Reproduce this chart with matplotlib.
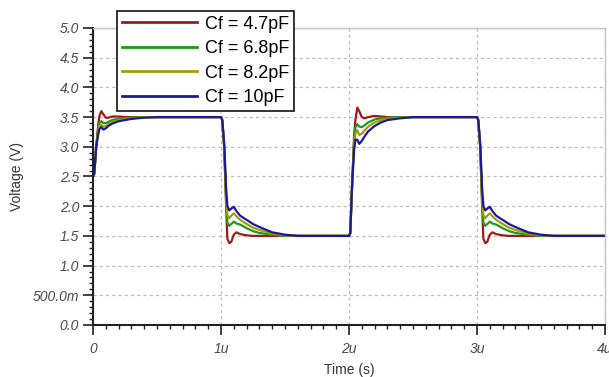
import numpy as np
import matplotlib
matplotlib.use("Agg")
import matplotlib.pyplot as plt
from matplotlib.ticker import MultipleLocator

plt.rcParams['font.family'] = ['Liberation Sans', 'DejaVu Sans']

# legend labels and colours
labels = ["Cf = 4.7pF", "Cf = 6.8pF", "Cf = 8.2pF", "Cf = 10pF"]
colors = ["#a31818", "#1c9a1c", "#a39c08", "#1a1a96"]

# axis ticks
x_ticks = [0, 1, 2, 3, 4]
x_labels = ["0", "1u", "2u", "3u", "4u"]
y_ticks = [0.0, 0.5, 1.0, 1.5, 2.0, 2.5, 3.0, 3.5, 4.0, 4.5, 5.0]
y_labels = ["0.0", "500.0m", "1.0", "1.5", "2.0", "2.5", "3.0",
            "3.5", "4.0", "4.5", "5.0"]

# edge start times (us)
edge_times = [0.0, 1.0, 2.0, 3.0]
end_time = 4.0
final_level = 1.5

# time after each edge (us)
rel_t = [0, 0.01, 0.025, 0.04, 0.05, 0.065, 0.08, 0.10, 0.12, 0.15,
         0.20, 0.25, 0.30, 0.40, 0.50, 0.60]

# first rise, from 2.5 V (t = 0)
rise0 = [
    [2.5, 2.55, 3.0, 3.35, 3.52, 3.60, 3.55, 3.49, 3.49, 3.51, 3.51, 3.50, 3.50, 3.50, 3.50, 3.50],
    [2.5, 2.55, 3.0, 3.30, 3.40, 3.43, 3.40, 3.40, 3.42, 3.45, 3.47, 3.48, 3.49, 3.50, 3.50, 3.50],
    [2.5, 2.55, 3.0, 3.25, 3.35, 3.37, 3.34, 3.35, 3.38, 3.42, 3.45, 3.47, 3.48, 3.50, 3.50, 3.50],
    [2.5, 2.55, 3.0, 3.20, 3.30, 3.33, 3.29, 3.31, 3.35, 3.39, 3.43, 3.45, 3.47, 3.49, 3.50, 3.50],
]

# falling edge, 3.5 V -> 1.5 V (t = 1u and 3u)
fall = [
    [3.5, 3.45, 3.0, 2.00, 1.45, 1.38, 1.40, 1.52, 1.56, 1.53, 1.51, 1.50, 1.50, 1.50, 1.50, 1.50],
    [3.5, 3.45, 3.0, 2.10, 1.72, 1.67, 1.70, 1.74, 1.71, 1.69, 1.63, 1.58, 1.55, 1.52, 1.50, 1.50],
    [3.5, 3.45, 3.0, 2.20, 1.85, 1.80, 1.84, 1.88, 1.83, 1.77, 1.70, 1.64, 1.60, 1.54, 1.51, 1.50],
    [3.5, 3.45, 3.05, 2.30, 2.00, 1.93, 1.96, 1.99, 1.92, 1.84, 1.77, 1.70, 1.65, 1.56, 1.52, 1.50],
]

# rising edge, 1.5 V -> 3.5 V (t = 2u)
rise = [
    [1.5, 1.55, 2.4, 3.20, 3.45, 3.66, 3.60, 3.50, 3.48, 3.50, 3.52, 3.51, 3.50, 3.50, 3.50, 3.50],
    [1.5, 1.55, 2.4, 3.10, 3.33, 3.38, 3.34, 3.33, 3.36, 3.41, 3.46, 3.48, 3.49, 3.50, 3.50, 3.50],
    [1.5, 1.55, 2.4, 3.00, 3.22, 3.28, 3.20, 3.22, 3.27, 3.34, 3.41, 3.45, 3.47, 3.49, 3.50, 3.50],
    [1.5, 1.55, 2.4, 2.95, 3.12, 3.12, 3.05, 3.10, 3.17, 3.26, 3.35, 3.41, 3.45, 3.48, 3.50, 3.50],
]

fig = plt.figure(figsize=(6.09, 3.77), dpi=100)
ax = fig.add_axes([93 / 609, 1 - 325 / 377, 512 / 609, 297 / 377])

rt = np.array(rel_t)
segments = [rise0, fall, rise, fall]
for i, (lab, col) in enumerate(zip(labels, colors)):
    t = np.concatenate([rt + e for e in edge_times] + [[end_time]])
    v = np.concatenate([seg[i] for seg in segments] + [[final_level]])
    ax.plot(t, v, color=col, lw=1.6, label=lab)

ax.set_xlim(0, 4)
ax.set_ylim(0, 5)

ax.set_xticks(x_ticks)
ax.set_xticklabels(x_labels)
ax.set_yticks(y_ticks)
ax.set_yticklabels(y_labels)
ax.xaxis.set_minor_locator(MultipleLocator(0.1))
ax.yaxis.set_minor_locator(MultipleLocator(0.1))

for lab in ax.get_xticklabels() + ax.get_yticklabels():
    lab.set_fontstyle("italic")
    lab.set_fontsize(10)
    lab.set_color("#4a4a4a")

ax.tick_params(which="major", direction="out", length=7, width=1.2, color="#222222")
ax.tick_params(which="minor", direction="out", length=3, width=1.0, color="#222222")
ax.tick_params(axis="x", which="major", pad=5)
ax.tick_params(axis="y", which="major", pad=3)

ax.grid(True, which="major", color="#bdbdbd", linestyle=(0, (2.5, 2.5)), lw=0.9)
ax.set_axisbelow(True)

for side in ["left", "bottom"]:
    ax.spines[side].set_color("#222222")
    ax.spines[side].set_linewidth(1.5)
for side in ["top", "right"]:
    ax.spines[side].set_color("#c4c4c4")
    ax.spines[side].set_linewidth(1.0)

ax.set_xlabel("Time (s)", fontsize=10, color="#333333", labelpad=5)
ax.set_ylabel("Voltage (V)", fontsize=10, color="#333333", labelpad=6)

leg = ax.legend(loc="upper left", bbox_to_anchor=(117 / 609, 1 - 11 / 377),
                bbox_transform=fig.transFigure, fontsize=13, frameon=True,
                fancybox=False, borderaxespad=0, borderpad=0.25,
                handlelength=4.2, handletextpad=0.45, labelspacing=0.42)
leg.get_frame().set_edgecolor("#111111")
leg.get_frame().set_linewidth(1.2)
leg.get_frame().set_alpha(1.0)
for h in leg.get_lines():
    h.set_linewidth(2.0)

fig.savefig("out.png", dpi=100)
